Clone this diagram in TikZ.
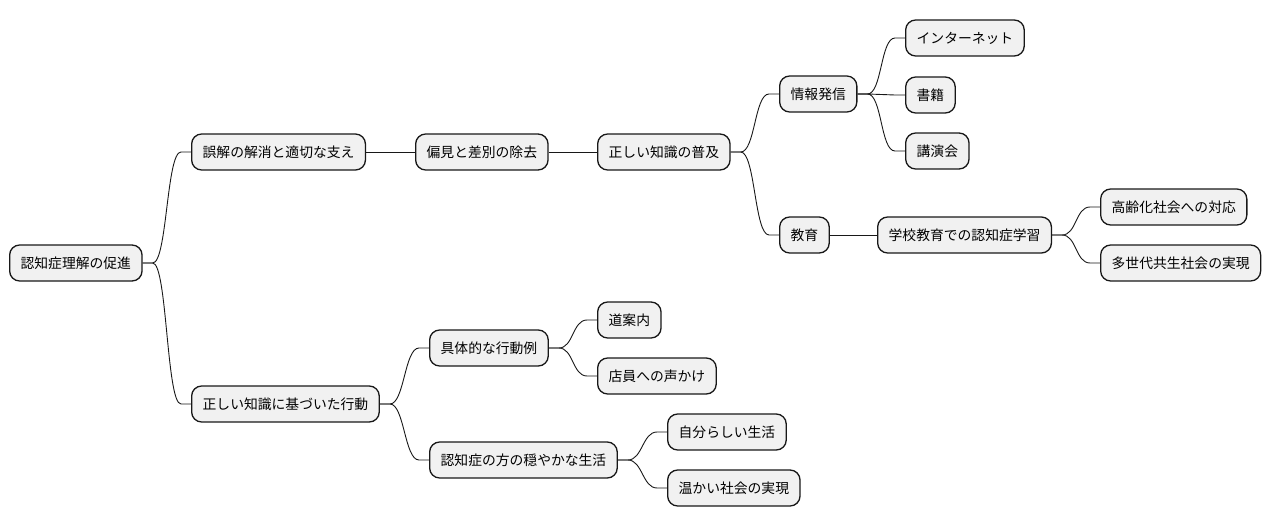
\documentclass[tikz,border=0pt]{standalone}
\usepackage{fontspec}
\setmainfont{Noto Sans CJK JP}
\usetikzlibrary{calc}
\definecolor{boxfill}{HTML}{F1F1F1}
\definecolor{boxline}{HTML}{181818}
\tikzset{
  mmbox/.style={draw=boxline, fill=boxfill, line width=1.3pt, rounded corners=10pt,
    minimum height=36pt, inner xsep=11pt, inner ysep=0pt, anchor=west,
    font=\fontsize{13.8pt}{16pt}\selectfont, text=black},
  mmline/.style={draw=boxline, line width=0.9pt}
}
\newcommand\mmlink[2]{%
  \draw[mmline] (#1.east) -- ($(#1.east)+(10,0)$)
    .. controls ($(#1.east)+(24.5,0)$) and ($(#2.west)+(-24.5,0)$) .. ($(#2.west)+(-10,0)$)
    -- (#2.west);}
\begin{document}
\begin{tikzpicture}[x=1pt,y=-1pt]
\useasboundingbox (0,0) rectangle (1272,527);
\node[mmbox] (root) at (9,263) {認知症理解の促進};
\node[mmbox] (a) at (191,152) {誤解の解消と適切な支え};
\node[mmbox] (a1) at (415,152) {偏見と差別の除去};
\node[mmbox] (a2) at (597,152) {正しい知識の普及};
\node[mmbox] (i) at (779,94) {情報発信};
\node[mmbox] (i1) at (905,38) {インターネット};
\node[mmbox] (i2) at (905,95) {書籍};
\node[mmbox] (i3) at (905,151) {講演会};
\node[mmbox] (e) at (779,235) {教育};
\node[mmbox] (e1) at (877,235) {学校教育での認知症学習};
\node[mmbox] (e2) at (1100,207) {高齢化社会への対応};
\node[mmbox] (e3) at (1100,263) {多世代共生社会の実現};
\node[mmbox] (b) at (191,404) {正しい知識に基づいた行動};
\node[mmbox] (b1) at (429,348) {具体的な行動例};
\node[mmbox] (b11) at (597,320) {道案内};
\node[mmbox] (b12) at (597,376) {店員への声かけ};
\node[mmbox] (b2) at (429,460) {認知症の方の穏やかな生活};
\node[mmbox] (b21) at (667,432) {自分らしい生活};
\node[mmbox] (b22) at (667,488) {温かい社会の実現};
\mmlink{root}{a}
\draw[mmline] (a) -- (a1);
\draw[mmline] (a1) -- (a2);
\mmlink{a2}{i}
\mmlink{i}{i1}
\mmlink{i}{i2}
\mmlink{i}{i3}
\mmlink{a2}{e}
\draw[mmline] (e) -- (e1);
\mmlink{e1}{e2}
\mmlink{e1}{e3}
\mmlink{root}{b}
\mmlink{b}{b1}
\mmlink{b1}{b11}
\mmlink{b1}{b12}
\mmlink{b}{b2}
\mmlink{b2}{b21}
\mmlink{b2}{b22}
\end{tikzpicture}
\end{document}
